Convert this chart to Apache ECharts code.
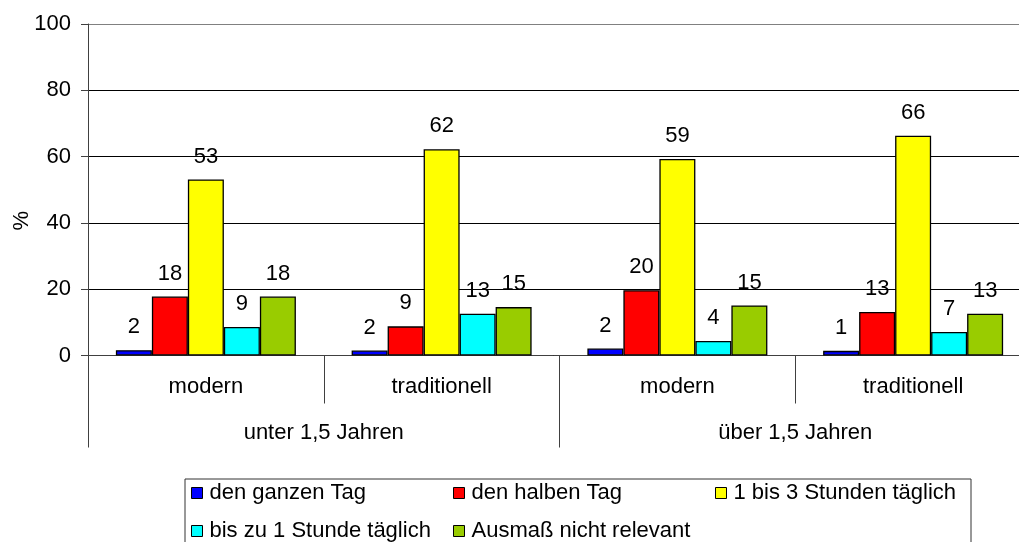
<!DOCTYPE html>
<html>
<head>
<meta charset="utf-8">
<script src="https://cdn.jsdelivr.net/npm/echarts@6/dist/echarts.min.js"></script>
<style>html,body{margin:0;padding:0;background:#fff}#c{width:1019px;height:542px}</style>
</head>
<body>
<div id="c"></div>
<script>
var subCategories = ['modern', 'traditionell', 'modern', 'traditionell'];
var groupCategories = ['unter 1,5 Jahren', 'über 1,5 Jahren'];
var seriesNames = ['den ganzen Tag', 'den halben Tag', '1 bis 3 Stunden täglich', 'bis zu 1 Stunde täglich', 'Ausmaß nicht relevant'];
var denGanzenTag = [1.6, 1.5, 2.1, 1.4];
var denHalbenTag = [17.8, 8.8, 19.7, 13.1];
var einBisDrei = [53.1, 62.2, 59.3, 66.3];
var bisZuEiner = [8.6, 12.6, 4.4, 7.1];
var nichtRelevant = [17.8, 14.6, 15.1, 12.6];
var yTicks = [0, 20, 40, 60, 80, 100];

var colors = ['#0000ff', '#ff0000', '#ffff00', '#00ffff', '#99cc00'];
var allData = [denGanzenTag, denHalbenTag, einBisDrei, bisZuEiner, nichtRelevant];
var FONT = 'Liberation Sans, Arial, sans-serif';
var FS = 22;

var chart = echarts.init(document.getElementById('c'), null, {renderer: 'canvas'});

var series = seriesNames.map(function (n, i) {
  return {
    name: n,
    type: 'bar',
    xAxisIndex: 0,
    barWidth: 36,
    barGap: '0%',
    data: allData[i],
    itemStyle: {color: colors[i], borderColor: '#000', borderWidth: 1.3},
    label: {
      show: true, position: 'top', distance: 12,
      color: '#000', fontFamily: FONT, fontSize: FS,
      formatter: function (p) { return Math.round(p.value); }
    }
  };
});

var legendPos = [[191, 482], [453, 482], [715, 482], [191, 520], [453, 520]];
var legends = seriesNames.map(function (n, i) {
  return {
    data: [n], left: legendPos[i][0], top: legendPos[i][1], padding: 0,
    itemWidth: 11, itemHeight: 11, icon: 'rect', selectedMode: false,
    itemStyle: {borderColor: '#000', borderWidth: 1},
    textStyle: {color: '#000', fontFamily: FONT, fontSize: FS, padding: [0, 0, 0, 2]}
  };
});

chart.setOption({
  animation: false,
  textStyle: {fontFamily: FONT},
  grid: {left: 88, top: 24, right: -12, bottom: 186.5, containLabel: false, outerBoundsMode: 'none'},
  legend: legends,
  graphic: [{
    type: 'rect', left: 182.5, top: 476.5, silent: true,
    shape: {width: 786, height: 80},
    style: {fill: 'none', stroke: '#333', lineWidth: 1}
  }],
  xAxis: [{
    type: 'category', data: subCategories, position: 'bottom',
    axisLine: {lineStyle: {color: '#404040', width: 1}},
    axisTick: {show: true, interval: 0, length: 48, lineStyle: {color: '#404040'}},
    axisLabel: {interval: 0, margin: 20, color: '#000', fontFamily: FONT, fontSize: FS},
    splitLine: {show: false}
  }, {
    type: 'category', data: groupCategories, position: 'bottom', offset: 0,
    axisLine: {show: false},
    axisTick: {show: true, interval: 0, length: 92, lineStyle: {color: '#404040'}},
    axisLabel: {interval: 0, margin: 66, color: '#000', fontFamily: FONT, fontSize: FS},
    splitLine: {show: false}
  }],
  yAxis: {
    type: 'value', min: yTicks[0], max: yTicks[yTicks.length - 1], interval: 20,
    name: '%', nameLocation: 'middle', nameGap: 66, nameMoveOverlap: false,
    nameTextStyle: {color: '#000', fontFamily: FONT, fontSize: FS, verticalAlign: 'middle', padding: [0, 62, 0, 0]},
    axisLine: {show: true, lineStyle: {color: '#404040', width: 1}},
    axisTick: {show: true, length: 7, lineStyle: {color: '#404040'}},
    axisLabel: {margin: 17, color: '#000', fontFamily: FONT, fontSize: FS},
    splitLine: {show: true, lineStyle: {color: ['#000', '#000', '#000', '#000', '#000', '#808080'], width: 1}}
  },
  series: series
});
</script>
</body>
</html>
